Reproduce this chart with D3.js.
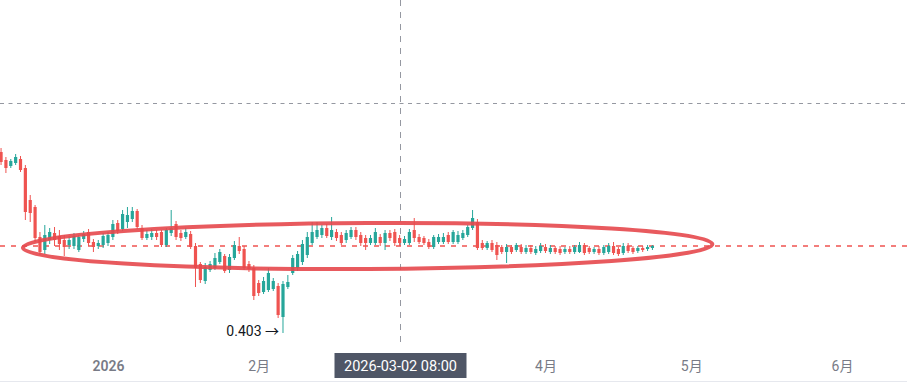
<!DOCTYPE html>
<html lang="zh">
<head>
<meta charset="utf-8">
<title>Candles</title>
<script src="https://d3js.org/d3.v7.min.js"></script>
<style>
  body { margin: 0; background: #fff; font-family: Roboto, "Noto Sans CJK SC", sans-serif; }
  svg { display: block; }
</style>
</head>
<body>
<script>
  // ---- data: daily candles, 2025-12-10 .. 2026-04-23 ----
  const firstDay = Date.UTC(2025, 11, 10);

  const open = [
    // Dec
    0.584,0.576,0.570,0.573,0.577,0.568,0.536,0.529,0.499,0.486,0.496,0.503,0.500,0.496,0.491,0.490,0.486,0.497,0.504,0.494,0.490,0.491,
    // Jan
    0.493,0.499,0.513,0.507,0.514,0.517,0.525,0.508,0.498,0.499,0.503,0.504,0.491,0.503,0.512,0.503,0.499,0.502,0.490,0.472,0.455,0.466,0.468,0.474,0.480,0.466,0.478,0.490,0.487,0.472,0.468,
    // Feb
    0.453,0.444,0.446,0.447,0.450,0.419,0.449,0.463,0.468,0.474,0.481,0.493,0.499,0.501,0.508,0.499,0.504,0.501,0.496,0.499,0.506,0.501,0.498,0.493,0.493,0.499,0.493,0.503,
    // Mar
    0.504,0.498,0.493,0.493,0.506,0.499,0.498,0.494,0.489,0.494,0.494,0.501,0.494,0.494,0.498,0.501,0.508,0.514,0.493,0.488,0.493,0.491,0.489,0.484,0.489,0.486,0.489,0.484,0.488,0.483,0.485,
    // Apr
    0.489,0.484,0.488,0.487,0.484,0.487,0.484,0.484,0.491,0.488,0.484,0.487,0.483,0.484,0.490,0.487,0.483,0.490,0.488,0.485,0.488,0.487,0.488
  ];
  const high = [
    0.588,0.579,0.577,0.582,0.580,0.571,0.541,0.531,0.504,0.511,0.508,0.509,0.506,0.501,0.500,0.503,0.501,0.505,0.507,0.497,0.496,0.503,
    0.504,0.516,0.516,0.526,0.529,0.529,0.527,0.511,0.506,0.507,0.506,0.506,0.508,0.526,0.515,0.506,0.508,0.505,0.493,0.474,0.473,0.475,0.483,0.487,0.482,0.482,0.495,0.499,0.490,0.475,0.471,
    0.456,0.459,0.468,0.458,0.453,0.455,0.461,0.481,0.485,0.496,0.504,0.514,0.514,0.511,0.512,0.519,0.507,0.504,0.506,0.509,0.509,0.504,0.501,0.501,0.508,0.502,0.506,0.506,
    0.507,0.501,0.500,0.507,0.518,0.502,0.500,0.497,0.501,0.502,0.503,0.504,0.506,0.505,0.506,0.511,0.526,0.517,0.496,0.495,0.496,0.494,0.491,0.492,0.491,0.493,0.492,0.491,0.491,0.490,0.493,
    0.492,0.491,0.490,0.490,0.489,0.490,0.491,0.494,0.493,0.490,0.489,0.490,0.491,0.493,0.494,0.489,0.493,0.493,0.490,0.490,0.490,0.491,0.491
  ];
  const low = [
    0.571,0.563,0.568,0.571,0.564,0.516,0.514,0.494,0.481,0.482,0.492,0.490,0.486,0.480,0.487,0.487,0.484,0.494,0.490,0.484,0.487,0.488,
    0.490,0.496,0.502,0.505,0.508,0.514,0.507,0.496,0.496,0.496,0.496,0.489,0.489,0.500,0.496,0.495,0.497,0.487,0.449,0.453,0.452,0.464,0.466,0.472,0.463,0.463,0.476,0.482,0.466,0.464,0.436,
    0.440,0.442,0.444,0.445,0.418,0.403,0.447,0.461,0.465,0.471,0.478,0.491,0.497,0.498,0.498,0.496,0.495,0.491,0.493,0.497,0.496,0.490,0.486,0.491,0.491,0.490,0.486,0.495,
    0.490,0.490,0.491,0.491,0.494,0.492,0.491,0.487,0.487,0.492,0.492,0.492,0.492,0.492,0.496,0.499,0.506,0.486,0.486,0.486,0.484,0.476,0.482,0.473,0.482,0.484,0.482,0.482,0.482,0.481,0.483,
    0.483,0.482,0.482,0.481,0.482,0.482,0.482,0.483,0.481,0.482,0.482,0.481,0.481,0.482,0.481,0.480,0.481,0.483,0.482,0.483,0.484,0.485,0.486
  ];
  const close = [
    0.574,0.568,0.575,0.579,0.566,0.524,0.523,0.498,0.484,0.501,0.504,0.496,0.492,0.489,0.496,0.500,0.499,0.502,0.493,0.489,0.493,0.500,
    0.501,0.512,0.505,0.522,0.521,0.525,0.509,0.498,0.502,0.503,0.499,0.491,0.506,0.508,0.499,0.498,0.504,0.489,0.468,0.456,0.469,0.472,0.478,0.484,0.465,0.479,0.491,0.485,0.468,0.467,0.440,
    0.443,0.455,0.463,0.455,0.421,0.452,0.454,0.478,0.482,0.492,0.499,0.504,0.506,0.508,0.500,0.506,0.498,0.493,0.503,0.506,0.499,0.493,0.493,0.498,0.504,0.493,0.503,0.498,
    0.493,0.493,0.497,0.504,0.498,0.494,0.493,0.489,0.499,0.499,0.499,0.494,0.504,0.501,0.503,0.509,0.518,0.488,0.488,0.493,0.486,0.481,0.484,0.489,0.484,0.491,0.484,0.488,0.484,0.487,0.490,
    0.485,0.488,0.484,0.483,0.487,0.484,0.489,0.491,0.483,0.484,0.487,0.483,0.489,0.490,0.483,0.482,0.490,0.485,0.484,0.488,0.486,0.489,0.490
  ];

  const axisMonths = [Date.UTC(2026, 0, 1), Date.UTC(2026, 1, 1), Date.UTC(2026, 3, 1), Date.UTC(2026, 4, 1), Date.UTC(2026, 5, 1)];
  const axisLabels = ["2026", "2月", "4月", "5月", "6月"];

  const lastPrice = 0.490;
  const crossDate = Date.UTC(2026, 2, 2);
  const crossPrice = 0.633;
  const crossLabel = "2026-03-02 08:00";
  const minLabel = "0.403";
  // hand-drawn ellipse annotation, in chart units
  const ringDates = [Date.UTC(2025, 11, 14, 12), Date.UTC(2026, 4, 5, 8)];
  const ringPrices = [0.467, 0.513];

  // ---- layout ----
  const width = 907, height = 388;
  const svg = d3.select("body").append("svg").attr("width", width).attr("height", height);

  const x = d3.scaleUtc()
    .domain([Date.UTC(2026, 0, 1), Date.UTC(2026, 5, 1)])
    .range([108, 842]);
  const y = d3.scaleLinear()
    .domain([0.403, 0.584])
    .range([333, 152]);

  const candles = open.map((o, i) => ({
    t: firstDay + i * 864e5, o, h: high[i], l: low[i], c: close[i]
  }));

  const up = "#26a69a", down = "#ef5350";

  // horizontal crosshair line
  svg.append("line")
    .attr("x1", 0).attr("x2", width)
    .attr("y1", Math.round(y(crossPrice)) + 0.5).attr("y2", Math.round(y(crossPrice)) + 0.5)
    .attr("stroke", "#9598a1").attr("stroke-dasharray", "4,4.5");

  // vertical crosshair line
  const cx = Math.round(x(crossDate)) + 0.5;
  svg.append("line")
    .attr("x1", cx).attr("x2", cx)
    .attr("y1", 0).attr("y2", 348)
    .attr("stroke", "#9598a1").attr("stroke-dasharray", "6,6");

  // last price line
  svg.append("line")
    .attr("x1", 0).attr("x2", width)
    .attr("y1", y(lastPrice)).attr("y2", y(lastPrice))
    .attr("stroke", down).attr("stroke-width", 1.5).attr("stroke-dasharray", "5,6");

  // candles
  const g = svg.append("g").selectAll("g").data(candles).join("g")
    .attr("fill", d => d.c >= d.o ? up : down)
    .attr("stroke", d => d.c >= d.o ? up : down);

  g.append("line")
    .attr("x1", d => x(d.t)).attr("x2", d => x(d.t))
    .attr("y1", d => y(d.h)).attr("y2", d => y(d.l))
    .attr("stroke-width", 1);

  g.append("rect")
    .attr("stroke", "none")
    .attr("x", d => x(d.t) - 1.6)
    .attr("width", 3.2)
    .attr("y", d => y(Math.max(d.o, d.c)))
    .attr("height", d => Math.max(1, Math.abs(y(d.o) - y(d.c))));

  // low marker
  const minIdx = d3.minIndex(candles, d => d.l);
  svg.append("text")
    .attr("x", x(candles[minIdx].t) - 4)
    .attr("y", y(candles[minIdx].l) + 3)
    .attr("text-anchor", "end")
    .attr("font-size", 14)
    .attr("fill", "#131722")
    .text(minLabel + " \u2192");

  // ellipse annotation
  const ex0 = x(ringDates[0]), ex1 = x(ringDates[1]);
  const ey0 = y(ringPrices[1]), ey1 = y(ringPrices[0]);
  const ecx = (ex0 + ex1) / 2, ecy = (ey0 + ey1) / 2;
  svg.append("ellipse")
    .attr("cx", ecx).attr("cy", ecy)
    .attr("rx", (ex1 - ex0) / 2).attr("ry", (ey1 - ey0) / 2)
    .attr("transform", `rotate(-0.3,${ecx},${ecy})`)
    .attr("fill", "none")
    .attr("stroke", "#e5484d")
    .attr("stroke-width", 4)
    .attr("opacity", 0.9);

  // time axis
  const axis = svg.append("g")
    .attr("transform", "translate(0,352)")
    .call(d3.axisBottom(x)
      .tickValues(axisMonths)
      .tickSize(0)
      .tickPadding(0)
      .tickFormat((d, i) => axisLabels[i]));
  axis.select(".domain").remove();
  axis.selectAll("text")
    .attr("dy", "1.36em")
    .attr("font-family", "Roboto, 'Noto Sans CJK SC', sans-serif")
    .attr("font-size", 14)
    .attr("fill", "#787b86")
    .attr("font-weight", (d, i) => i === 0 ? 600 : 400);

  svg.append("line")
    .attr("x1", 0).attr("x2", width)
    .attr("y1", 381.5).attr("y2", 381.5)
    .attr("stroke", "#e6e8ee");

  // crosshair time label
  const lbl = svg.append("g");
  lbl.append("rect")
    .attr("x", cx - 66).attr("y", 353)
    .attr("width", 132).attr("height", 25)
    .attr("fill", "#4f5666");
  lbl.append("text")
    .attr("x", cx).attr("y", 370.5)
    .attr("text-anchor", "middle")
    .attr("font-size", 14.5)
    .attr("fill", "#fff")
    .text(crossLabel);
</script>
</body>
</html>
